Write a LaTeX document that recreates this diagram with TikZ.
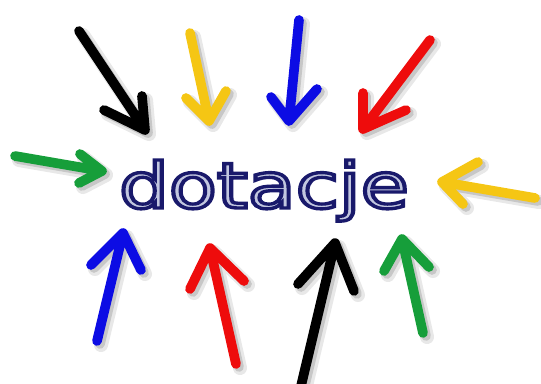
\documentclass[tikz,border=0pt]{standalone}
\usepackage{fontspec}
\newfontfamily\napisfont{DejaVu Sans}
\usepackage{tikz}
\usetikzlibrary{calc}
\definecolor{zolty}{RGB}{245,198,20}
\definecolor{niebieski}{RGB}{12,12,228}
\definecolor{czerwony}{RGB}{238,12,12}
\definecolor{zielony}{RGB}{22,158,58}
\definecolor{granat}{RGB}{28,28,112}
\tikzset{
  strzal/.style={line width=5.5pt, line cap=round, line join=round},
  cien/.style={strzal, black!22, shift={(3,3)}},
  poswiata/.style={strzal, line width=8pt, black!9, shift={(4,4)}}
}
\def\strzalka[#1](#2)(#3)(#4)(#5){
  \draw[poswiata] (#2) -- (#3) (#4) -- (#3) -- (#5);
  \draw[cien] (#2) -- (#3) (#4) -- (#3) -- (#5);
  \draw[strzal, #1] (#2) -- (#3) (#4) -- (#3) -- (#5);
}
% obrys liter: granatowy kontur, jasne wnetrze
\def\obrys#1{\special{pdf:code q 2 Tr 1.9 w 0.10 0.10 0.42 RG 0.76 0.78 0.88 rg}#1\special{pdf:code Q}}

\begin{document}
\begin{tikzpicture}[x=0.02cm, y=-0.02cm]
			%%%%% START %%%%%
			
			\useasboundingbox (0, 0) rectangle (541, 383);
			
			% napis
			\node[anchor=base, inner sep=0, xscale=1.24, transform shape] (napis)
				at (264, 208) {\napisfont\fontsize{36}{36}\selectfont\obrys{dotacje}};
			
			% strzalki z gory
			\strzalka[black](79, 31)(145, 130)(104, 110)(142, 96)
			\strzalka[zolty](190, 33)(209, 121)(186, 98)(226, 91)
			\strzalka[niebieski](299, 20)(289, 121)(271, 97)(317, 89)
			\strzalka[czerwony](430, 40)(363, 129)(363, 93)(406, 110)
			
			% strzalki z boku
			\strzalka[zielony](15, 156)(102, 171)(80, 154)(79, 183)
			\strzalka[zolty](535, 198)(442, 182)(478, 162)(463, 204)
			
			% strzalki z dolu
			\strzalka[niebieski](97, 341)(123, 233)(91, 265)(141, 270)
			\strzalka[czerwony](236, 364)(210, 248)(190, 289)(244, 281)
			\strzalka[black](301, 386)(335, 243)(298, 284)(354, 291)
			\strzalka[zielony](423, 333)(402, 239)(384, 271)(429, 267)
			
			%%%%% END %%%%%
\end{tikzpicture}
\end{document}
